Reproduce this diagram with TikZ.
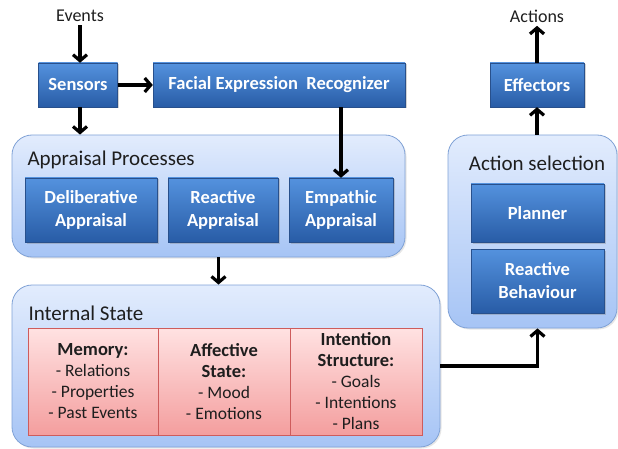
\documentclass[tikz,border=0pt]{standalone}
\usepackage{fontspec}
\setmainfont{Carlito}
\usetikzlibrary{arrows.meta,shadows}

\definecolor{boxtop}{RGB}{84,146,222}
\definecolor{boxbot}{RGB}{40,92,166}
\definecolor{boxline}{RGB}{40,80,140}
\definecolor{grptop}{RGB}{226,236,253}
\definecolor{grpbot}{RGB}{166,196,245}
\definecolor{grpline}{RGB}{128,162,214}
\definecolor{redtop}{RGB}{255,226,226}
\definecolor{redbot}{RGB}{244,158,158}
\definecolor{redline}{RGB}{206,92,92}
\definecolor{headtext}{RGB}{30,30,30}

\newcommand{\statehead}[1]{{\fontsize{18.5}{21}\selectfont\bfseries #1}}

\tikzset{
  bluebox/.style={rectangle, draw=boxline, top color=boxtop, bottom color=boxbot,
    text=white, font=\fontsize{18.5}{23}\selectfont\bfseries, align=center, inner sep=0pt,
    drop shadow={opacity=0.35, shadow xshift=1.5pt, shadow yshift=-1.5pt}},
  groupbox/.style={rectangle, rounded corners=20pt, draw=grpline, line width=0.8pt,
    top color=grptop, bottom color=grpbot, inner sep=0pt,
    drop shadow={opacity=0.2, shadow xshift=1.5pt, shadow yshift=-1.5pt}},
  redbox/.style={rectangle, draw=redline, line width=0.8pt, top color=redtop, bottom color=redbot,
    text=headtext, font=\fontsize{17.5}{21}\selectfont, align=center, inner sep=0pt},
  heading/.style={font=\fontsize{21}{24}\selectfont, text=headtext},
  label/.style={font=\fontsize{18}{21}\selectfont, text=headtext},
  flow/.style={-{Straight Barb[length=6pt,width=14pt]}, line width=3.2pt},
}

\begin{document}
\begin{tikzpicture}[x=1pt, y=-1pt]
  \useasboundingbox (0,0) rectangle (618,449);

  % input side
  \node[label] (events) at (80,16) {Events};
  \node[bluebox, minimum width=79pt, minimum height=44pt] (sensors) at (78,85) {Sensors};
  \node[bluebox, minimum width=252pt, minimum height=44pt] (fer) at (279,85) {Facial Expression\ \ Recognizer};

  % appraisal
  \node[groupbox, minimum width=393pt, minimum height=122pt] (appraisal) at (208.5,196) {};
  \node[heading, anchor=west] (apphead) at (24,160) {Appraisal Processes};
  \node[bluebox, minimum width=132pt, minimum height=64pt] (delib) at (91,210) {Deliberative\\Appraisal};
  \node[bluebox, minimum width=110pt, minimum height=64pt] (reactapp) at (223,210) {Reactive\\Appraisal};
  \node[bluebox, minimum width=104pt, minimum height=64pt] (empathic) at (341,210) {Empathic\\Appraisal};

  % internal state
  \node[groupbox, minimum width=428pt, minimum height=162pt] (internal) at (226,366) {};
  \node[heading, anchor=west] (inthead) at (25,313) {Internal State};
  \node[redbox, minimum width=130pt, minimum height=107pt] (memory) at (93,381.5)
    {\statehead{Memory:}\\- Relations\\- Properties\\- Past Events};
  \node[redbox, minimum width=132pt, minimum height=107pt] (affective) at (224,381.5)
    {\statehead{Affective}\\\statehead{State:}\\- Mood\\- Emotions};
  \node[redbox, minimum width=132pt, minimum height=107pt] (intention) at (356,381.5)
    {\statehead{Intention}\\\statehead{Structure:}\\- Goals\\- Intentions\\- Plans};

  % output side
  \node[groupbox, minimum width=169pt, minimum height=193pt] (action) at (532.5,231.5) {};
  \node[heading] (acthead) at (537,163) {Action selection};
  \node[bluebox, minimum width=133pt, minimum height=58pt] (planner) at (537.5,213) {Planner};
  \node[bluebox, minimum width=133pt, minimum height=64pt] (reactbeh) at (537.5,281) {Reactive\\Behaviour};
  \node[bluebox, minimum width=94pt, minimum height=44pt] (effectors) at (537,85) {Effectors};
  \node[label] (actions) at (537,16) {Actions};

  \draw[flow] (events) -- (events |- sensors.north);
  \draw[flow] (sensors) -- (fer);
  \draw[flow] (events |- sensors.south) -- (events |- appraisal.north);
  \draw[flow] (empathic |- fer.south) -- (empathic.north);
  \draw[flow] ([xshift=10pt]appraisal.south) -- ([xshift=10pt]appraisal.south |- internal.north);
  \draw[flow] (internal.east) -| (planner |- action.south);
  \draw[flow] (effectors |- action.north) -- (effectors);
  \draw[flow] (effectors) -- (actions);
\end{tikzpicture}
\end{document}
